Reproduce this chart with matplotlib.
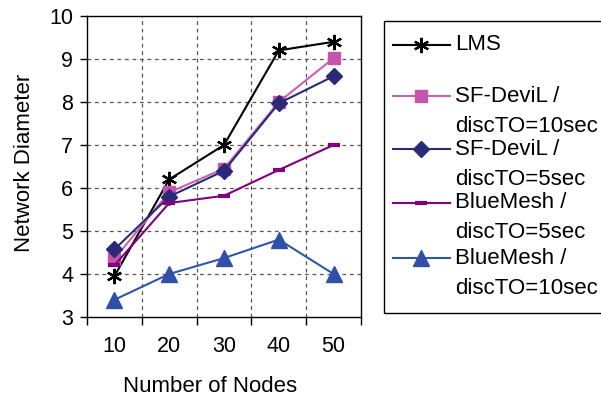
import matplotlib
matplotlib.use("Agg")
import matplotlib.pyplot as plt
from matplotlib.lines import Line2D
from matplotlib.patches import Rectangle

plt.rcParams['font.family'] = ['Liberation Sans', 'DejaVu Sans']

categories = ["10", "20", "30", "40", "50"]
series_names = ["LMS", "SF-DeviL /\ndiscTO=10sec", "SF-DeviL /\ndiscTO=5sec",
                "BlueMesh /\ndiscTO=5sec", "BlueMesh /\ndiscTO=10sec"]
lms = [3.95, 6.2, 7.0, 9.2, 9.4]
sf_10 = [4.35, 5.9, 6.45, 8.0, 9.02]
sf_5 = [4.57, 5.8, 6.4, 7.97, 8.6]
bm_5 = [4.2, 5.65, 5.82, 6.42, 7.0]
bm_10 = [3.4, 4.0, 4.37, 4.8, 4.0]
y_ticks = [3, 4, 5, 6, 7, 8, 9, 10]

styles = [
    dict(color="black", marker=(6, 2, 0), markersize=11, markeredgewidth=1.6, lw=1.5),
    dict(color="#CC5FB0", marker="s", markersize=9, mfc="#C455AA", mec="#C455AA", lw=1.5),
    dict(color="#2A2A78", marker="D", markersize=8, mfc="#2A2A78", mec="#2A2A78", lw=1.5),
    dict(color="#800080", marker="_", markersize=9, markeredgewidth=3, lw=1.5),
    dict(color="#3056A8", marker="^", markersize=11, mfc="#2F4FA8", mec="#2F4FA8", lw=1.5),
]
data = [lms, sf_10, sf_5, bm_5, bm_10]

fig = plt.figure(figsize=(6.01, 4.01), dpi=100)
ax = fig.add_axes([87/601, 1 - 317/401, (361-87)/601, (317-16)/401])

x = list(range(len(categories)))
for vals, st in zip(data, styles):
    ax.plot(x, vals, **st, zorder=3, clip_on=False)

ax.set_xlim(-0.5, len(categories) - 0.5)
ax.set_ylim(3, 10)
ax.set_yticks(y_ticks)
ax.set_yticklabels([str(v) for v in y_ticks], fontsize=15.5)
ax.set_xticks(x)
ax.set_xticklabels(categories, fontsize=15.5)
ax.tick_params(axis='x', which='major', length=0, pad=14)
ax.set_xticks([i - 0.5 for i in range(len(categories) + 1)], minor=True)
ax.tick_params(axis='x', which='minor', length=6, direction='out', width=1)
ax.tick_params(axis='y', length=5, direction='out', width=1, pad=5)
for xv in [i + 0.5 for i in range(len(categories) - 1)]:
    ax.axvline(xv, color="#555555", ls=(0, (3, 3)), lw=0.9, zorder=1)
for yv in y_ticks[1:-1]:
    ax.axhline(yv, color="#555555", ls=(0, (3, 3)), lw=0.9, zorder=1)
for s in ax.spines.values():
    s.set_color("black")
    s.set_linewidth(1.0)

fig.text(25/601, 1 - 163/401, "Network Diameter", rotation=90, fontsize=16,
         ha='center', va='center')
fig.text(210/601, 1 - 386/401, "Number of Nodes", fontsize=16, ha='center', va='center')

# legend
fig.add_artist(Rectangle((384/601, 1 - 313/401), (640-384)/601, (313-21)/401,
                         transform=fig.transFigure, fill=False, ec="black", lw=1.0))
first_rows = [45, 96, 149, 203, 258]
for name, st, yr in zip(series_names, styles, first_rows):
    yf = 1 - yr/401
    fig.add_artist(Line2D([393/601, 450/601], [yf, yf], transform=fig.transFigure,
                          color=st["color"], lw=st["lw"]))
    mst = {k: v for k, v in st.items() if k not in ("color", "lw")}
    fig.add_artist(Line2D([421/601], [yf], transform=fig.transFigure, ls='none',
                          color=st["color"], **mst))
    lines = name.split("\n")
    for j, t in enumerate(lines):
        fig.text(455/601, 1 - (yr + 30*j)/401, t, fontsize=16, ha='left', va='center')

fig.savefig("out.png", dpi=100)
